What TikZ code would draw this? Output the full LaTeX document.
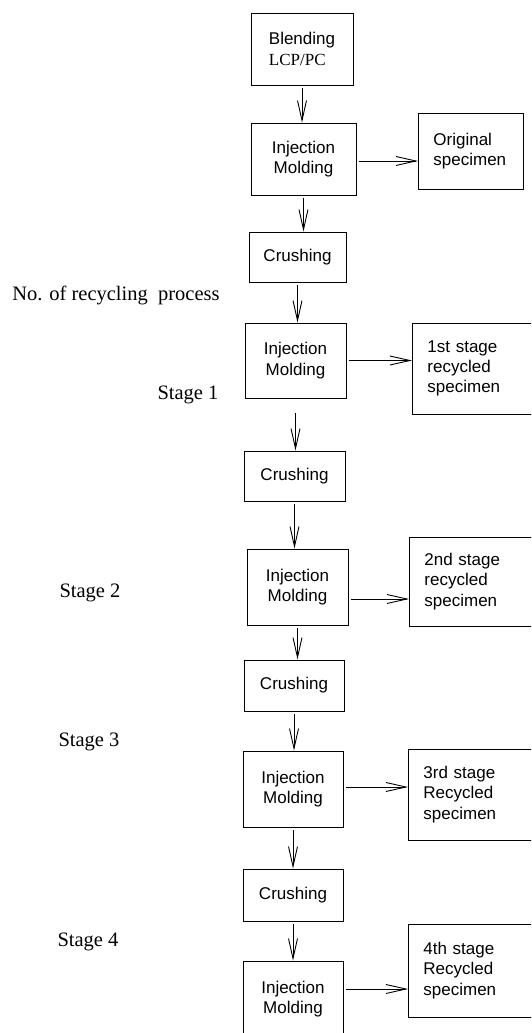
\documentclass[tikz,border=0pt]{standalone}
\usepackage{fontspec}
\setmainfont{Liberation Serif}
\setsansfont{Liberation Sans}
\usetikzlibrary{arrows.meta}
\begin{document}
\begin{tikzpicture}[x=1pt, y=-1pt, line width=0.9pt,
    procbox/.style={draw, rectangle, inner sep=0pt, align=center,
      font=\sffamily\fontsize{17}{20.4}\selectfont},
    outbox/.style={draw, rectangle, anchor=west, inner ysep=0pt, inner xsep=15pt,
      align=left, font=\sffamily\fontsize{17}{20.4}\selectfont},
    flow/.style={-{Straight Barb[length=20pt,width=9pt]}, shorten <=3pt},
    stagetext/.style={font=\fontsize{20.5}{24}\selectfont}]
  \useasboundingbox (0,0) rectangle (531,1033);
  \clip (0,0) rectangle (531,1033);

  % process column
  \node[procbox, minimum width=102pt, minimum height=72pt, align=left] (blend) at (302,49) {Blending\\\rmfamily LCP/PC};
  \node[procbox, minimum width=105pt, minimum height=72pt] (inj0) at (303.5,159) {Injection\\Molding};
  \node[procbox, minimum width=97pt, minimum height=50pt] (crush1) at (297.5,257) {Crushing};
  \node[procbox, minimum width=101pt, minimum height=75pt] (inj1) at (295.5,360.5) {Injection\\Molding};
  \node[procbox, minimum width=101pt, minimum height=50pt] (crush2) at (294.5,476) {Crushing};
  \node[procbox, minimum width=101pt, minimum height=76pt] (inj2) at (297.5,587) {Injection\\Molding};
  \node[procbox, minimum width=100pt, minimum height=51pt] (crush3) at (294,685.5) {Crushing};
  \node[procbox, minimum width=100pt, minimum height=76pt] (inj3) at (293,789) {Injection\\Molding};
  \node[procbox, minimum width=100pt, minimum height=52pt] (crush4) at (293,895) {Crushing};
  \node[procbox, minimum width=100pt, minimum height=76pt] (inj4) at (293,999) {Injection\\Molding};

  % specimens
  \node[outbox, text width=75pt, minimum height=76pt] (orig) at (418,151) {Original\\specimen};
  \node[outbox, text width=100pt, minimum height=91pt] (rec1) at (412,368.5) {1st stage\\recycled\\specimen};
  \node[outbox, text width=100pt, minimum height=89pt] (rec2) at (409,581.5) {2nd stage\\recycled\\specimen};
  \node[outbox, text width=100pt, minimum height=91pt] (rec3) at (408,794.5) {3rd stage\\Recycled\\specimen};
  \node[outbox, text width=100pt, minimum height=93pt] (rec4) at (408,970.5) {4th stage\\Recycled\\specimen};

  % stage labels
  \node[stagetext] (lblproc) at (116,295) {No. of recycling\ \ process};
  \node[stagetext] (lblst1) at (188,395) {Stage 1};
  \node[stagetext] (lblst2) at (90,593) {Stage 2};
  \node[stagetext] (lblst3) at (89,742) {Stage 3};
  \node[stagetext] (lblst4) at (88,942) {Stage 4};

  % downward flow
  \draw[flow] (blend.south) -- (blend.south |- inj0.north);
  \draw[flow] (inj0.south) -- (inj0.south |- crush1.north);
  \draw[flow] (crush1.south) -- (crush1.south |- inj1.north);
  \draw[flow] (inj1.south) ++(0,12) -- (inj1.south |- crush2.north);
  \draw[flow] (crush2.south) -- (crush2.south |- inj2.north);
  \draw[flow] (inj2.south) -- (inj2.south |- crush3.north);
  \draw[flow] (crush3.south) -- (crush3.south |- inj3.north);
  \draw[flow] (inj3.south) -- (inj3.south |- crush4.north);
  \draw[flow] (crush4.south) -- (crush4.south |- inj4.north);

  % sideways flow
  \draw[flow] ([yshift=-2pt]inj0.east) -- ([yshift=-2pt]inj0.east -| orig.west);
  \draw[flow] (inj1.east) -- (inj1.east -| rec1.west);
  \draw[flow] ([yshift=-12pt]inj2.east) -- ([yshift=-12pt]inj2.east -| rec2.west);
  \draw[flow] ([yshift=2pt]inj3.east) -- ([yshift=2pt]inj3.east -| rec3.west);
  \draw[flow] ([yshift=10pt]inj4.east) -- ([yshift=10pt]inj4.east -| rec4.west);
\end{tikzpicture}
\end{document}
